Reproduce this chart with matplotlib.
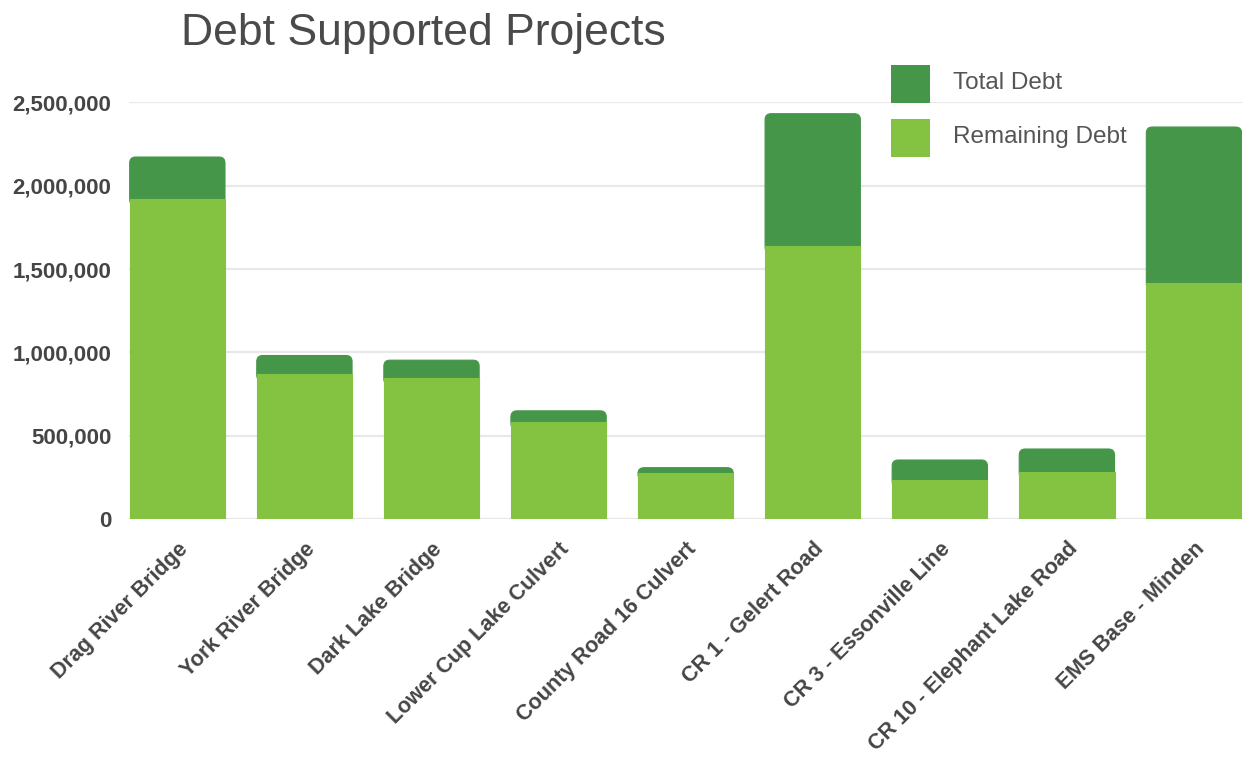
import numpy as np
import matplotlib
matplotlib.use("Agg")
import matplotlib.pyplot as plt
from matplotlib.patches import FancyBboxPatch, Rectangle
from matplotlib.ticker import FuncFormatter

# project debt figures
projects = ["Drag River Bridge", "York River Bridge", "Dark Lake Bridge",
            "Lower Cup Lake Culvert", "County Road 16 Culvert", "CR 1 - Gelert Road",
            "CR 3 - Essonville Line", "CR 10 - Elephant Lake Road", "EMS Base - Minden"]
total_debt = [2172000, 981000, 953000, 649000, 308000, 2432000, 354000, 420000, 2352000]
remaining_debt = [1923000, 869000, 847000, 580000, 274000, 1637000, 234000, 284000, 1417000]
series_names = ["Total Debt", "Remaining Debt"]

dark_green = "#46964a"
light_green = "#83c341"
text_grey = "#454545"

plt.rcParams["font.family"] = ["Liberation Sans", "DejaVu Sans"]

W, H = 1242, 758
fig = plt.figure(figsize=(W / 100, H / 100), dpi=100)
ax = fig.add_axes([0.1041, 0.3153, 0.8959, 0.5501])

x = np.arange(len(projects))
width = 0.75
ax.set_xlim(-0.378, len(projects) - 1 + 0.378)
ax.set_ylim(0, 2502000)

# light bars for the remaining debt (thin same-colour edge hides the cap's edge)
ax.bar(x, remaining_debt, width, color=light_green, edgecolor=light_green,
       linewidth=0.8, zorder=3)

# dark caps up to the total, rounded on top; the lower end tucks under the light bar
fig.canvas.draw()
px_x = ax.transData.transform((1, 0))[0] - ax.transData.transform((0, 0))[0]
px_y = ax.transData.transform((0, 1e6))[1] - ax.transData.transform((0, 0))[1]
aspect = px_x / (px_y / 1e6)
radius = 6 / px_x
overlap = 7 * 1e6 / px_y
for xi, tot, rem in zip(x, total_debt, remaining_debt):
    y0 = max(0, rem - overlap)
    ax.add_patch(FancyBboxPatch((xi - width / 2, y0), width, tot - y0,
                                boxstyle=f"round,pad=0,rounding_size={radius}",
                                mutation_aspect=aspect, facecolor=dark_green,
                                edgecolor=dark_green, linewidth=0.8, zorder=2))

ax.set_yticks(np.arange(0, 2500001, 500000))
ax.yaxis.set_major_formatter(FuncFormatter(lambda v, _: f"{v:,.0f}"))
ax.tick_params(axis="y", length=0, pad=13, labelsize=16, labelcolor=text_grey)
for lbl in ax.get_yticklabels():
    lbl.set_fontweight("bold")

ax.set_xticks(x)
ax.set_xticklabels(projects, rotation=45, ha="right", va="top", rotation_mode="anchor",
                   fontsize=15.5, fontweight="bold", color=text_grey)
ax.tick_params(axis="x", length=0, pad=14)

ax.grid(axis="y", color="#e8e8e8", linewidth=1.6)
ax.set_axisbelow(True)
for s in ax.spines.values():
    s.set_visible(False)

fig.text(181 / W, 1 - 45 / H, "Debt Supported Projects", fontsize=32,
         color="#4a4a4a", ha="left", va="baseline")

# legend: square swatches with labels to the right
for i, (name, col) in enumerate(zip(series_names, [dark_green, light_green])):
    top = 65 + 54 * i
    fig.patches.append(Rectangle((891 / W, 1 - (top + 38) / H), 39 / W, 38 / H,
                                 transform=fig.transFigure, facecolor=col,
                                 edgecolor="none"))
    fig.text(953 / W, 1 - (top + 18) / H, name, fontsize=17.5, color="#555555",
             ha="left", va="center")

fig.savefig("out.png", dpi=100)
